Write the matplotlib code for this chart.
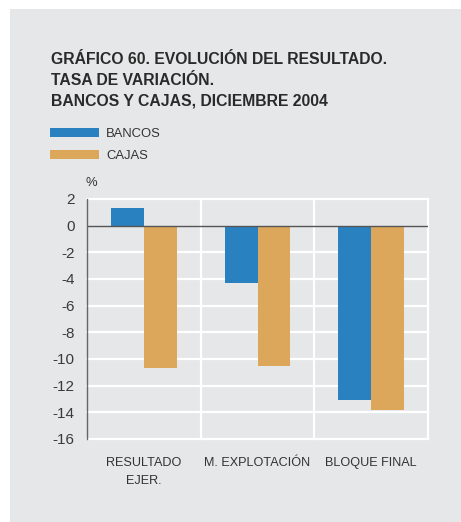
import matplotlib
matplotlib.use("Agg")
import matplotlib.pyplot as plt
from matplotlib.patches import Rectangle
import numpy as np

categories = ["RESULTADO\nEJER.", "M. EXPLOTACIÓN", "BLOQUE FINAL"]
bancos = [1.3, -4.3, -13.05]
cajas = [-10.7, -10.5, -13.8]
yticks = [2, 0, -2, -4, -6, -8, -10, -12, -14, -16]
title_lines = ["GRÁFICO 60. EVOLUCIÓN DEL RESULTADO.",
               "TASA DE VARIACIÓN.",
               "BANCOS Y CAJAS, DICIEMBRE 2004"]

BLUE = "#2a81c0"
ORANGE = "#dca65b"
PANEL = "#e6e7e8"
TEXT = "#333333"

plt.rcParams["font.family"] = ["Liberation Sans", "DejaVu Sans"]

W, H = 461, 522
fig = plt.figure(figsize=(W / 100, H / 100), dpi=100, facecolor="white")

# grey panel behind everything
fig.patches.append(Rectangle((10 / W, 0), 1 - 10 / W, 1 - 9 / H,
                             transform=fig.transFigure, facecolor=PANEL,
                             edgecolor="none", zorder=-10))

# title
for i, line in enumerate(title_lines):
    fig.text(51 / W, 1 - (64 + i * 21) / H, line, fontsize=11.3,
             fontweight="bold", color="#2a2a2a", va="baseline", ha="left")

# legend
for i, (lab, col) in enumerate([("BANCOS", BLUE), ("CAJAS", ORANGE)]):
    yc = 132.5 + i * 22
    fig.patches.append(Rectangle((50 / W, 1 - (yc + 4.5) / H), 49 / W, 9 / H,
                                 transform=fig.transFigure, facecolor=col,
                                 edgecolor="none"))
    fig.text(106 / W, 1 - (yc + 4.5) / H, lab, fontsize=9.4, color=TEXT,
             va="baseline", ha="left")

ax = fig.add_axes([87 / W, 1 - 439 / H, (428 - 87) / W, (439 - 199) / H])
ax.set_facecolor(PANEL)

x = np.arange(len(categories))
bw = 0.29
ax.bar(x - bw / 2, bancos, bw, color=BLUE, zorder=3)
ax.bar(x + bw / 2, cajas, bw, color=ORANGE, zorder=3)

ax.set_xlim(-0.5, len(categories) - 0.5)
ax.set_ylim(-16, 2)

# white grid
for yv in yticks:
    if yv != 0:
        ax.axhline(yv, color="white", lw=1.6, zorder=1, clip_on=False)
for xv in np.arange(len(categories) + 1) - 0.5:
    if xv > -0.5:
        ax.axvline(xv, color="white", lw=1.6, zorder=1, clip_on=False)
ax.axhline(0, color="#555555", lw=1.0, zorder=4)

for s in ["top", "right", "bottom"]:
    ax.spines[s].set_visible(False)
ax.spines["left"].set_color("#666666")
ax.spines["left"].set_linewidth(1.0)
ax.spines["left"].set_zorder(5)

ax.set_yticks(yticks)
ax.set_yticklabels([str(v) for v in yticks])
ax.tick_params(axis="y", length=0, pad=9, labelsize=11, labelcolor="#3a3a3a")
ax.set_xticks(x)
ax.set_xticklabels(categories, fontsize=9.1, color=TEXT, linespacing=1.65)
ax.tick_params(axis="x", length=0, pad=13)

fig.text(85 / W, 1 - 186 / H, "%", fontsize=9.4, color=TEXT,
         va="baseline", ha="left")

fig.savefig("out.png", dpi=100, facecolor="white")
